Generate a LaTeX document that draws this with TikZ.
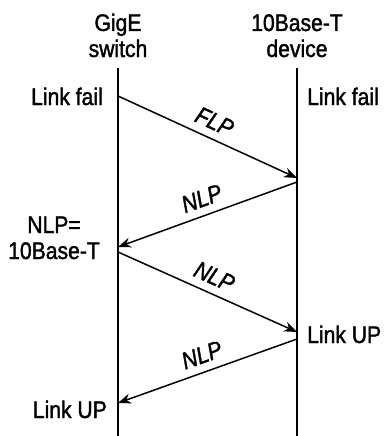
\documentclass[tikz,border=0pt]{standalone}
\usepackage{fontspec}
\setmainfont{Liberation Sans}[FakeStretch=0.88,FakeBold=1.5]
\usetikzlibrary{arrows.meta,positioning,calc}
\newcommand \mymsg[3]
{
\draw[-{Stealth[length=13pt,width=10pt]},line width=1.5pt] (#1)--node[sloped,above=8pt,pos=0.5,inner sep=0pt,font=\fontsize{24}{26}\selectfont\itshape]{#3}(#2);
}

\begin{document}
\begin{tikzpicture}[x=1pt,y=-1pt,line join=round,font=\fontsize{24}{26}\selectfont]
\useasboundingbox (0,0) rectangle (385,436);
\node[align=center,anchor=base,inner sep=0pt] (sw) at (118,57) {GigE\\switch};
\node[align=center,anchor=base,inner sep=0pt] (dev) at (297,57) {10Base-T\\device};
\coordinate (s0) at (118,68);
\coordinate (s1) at (118,436);
\coordinate (d0) at (297,68);
\coordinate (d1) at (297,436);
\draw[line width=2.4pt] (s0)--(s1) (d0)--(d1);
% events
\node[anchor=base east,inner sep=0pt] (sfail) at (103,105) {Link fail};
\node[anchor=base west,inner sep=0pt] (dfail) at (307,105) {Link fail};
\node[align=center,anchor=base,inner sep=0pt] (snlp) at (54,259) {NLP=\\10Base-T};
\node[anchor=base west,inner sep=0pt] (dup) at (307,343) {Link UP};
\node[anchor=base east,inner sep=0pt] (sup) at (107,418) {Link UP};
% messages
\coordinate (a1) at (118,96);
\coordinate (b1) at (297,178);
\coordinate (b2) at (297,182);
\coordinate (a2) at (118,247);
\coordinate (a3) at (118,252);
\coordinate (b3) at (297,332);
\coordinate (b4) at (297,339);
\coordinate (a4) at (118,403);
\mymsg{a1}{b1}{FLP}
\mymsg{b2}{a2}{NLP}
\mymsg{a3}{b3}{NLP}
\mymsg{b4}{a4}{NLP}
\end{tikzpicture}
\end{document}
